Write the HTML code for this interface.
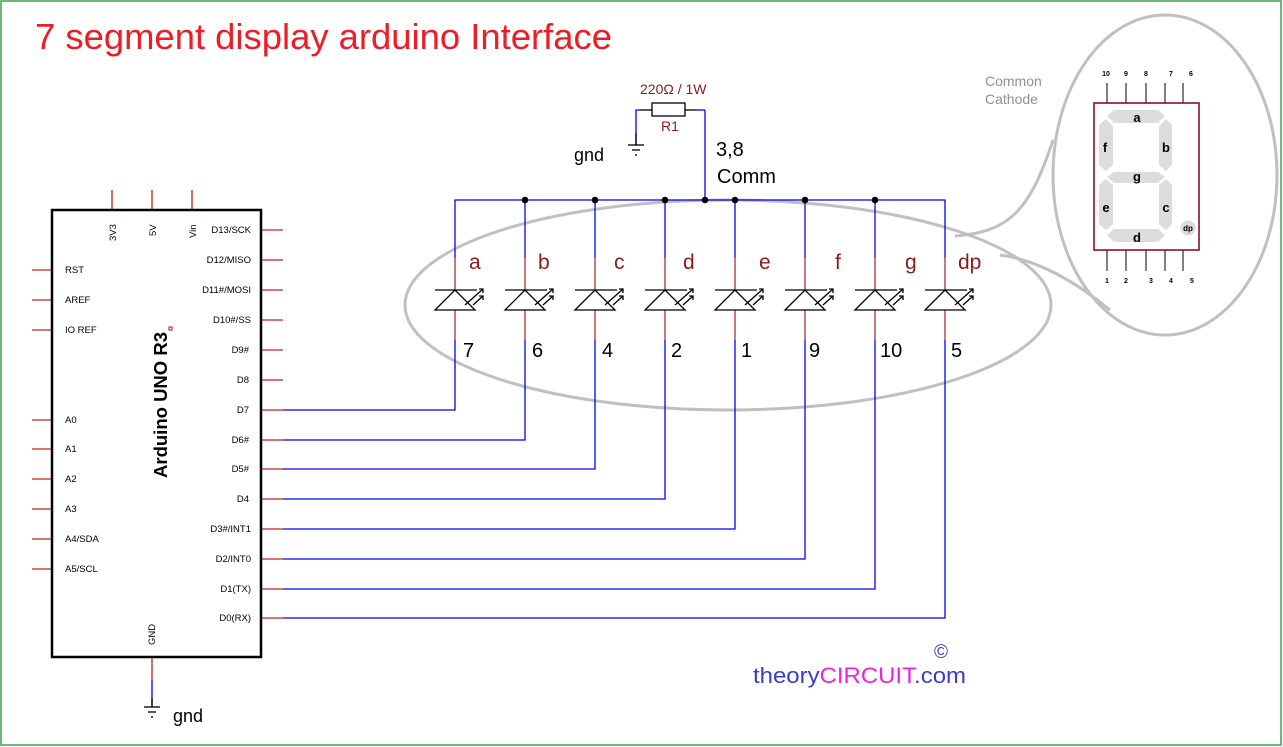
<!DOCTYPE html>
<html><head><meta charset="utf-8"><style>
html,body{margin:0;padding:0;background:#fff;}
svg{display:block;font-family:"Liberation Sans",sans-serif;}
</style></head><body>
<svg width="1283" height="747" viewBox="0 0 1283 747" xmlns="http://www.w3.org/2000/svg">
<rect x="1" y="1" width="1280" height="744" fill="#fff" stroke="#3aa04a" stroke-width="1.5"/>
<text x="35" y="49" font-size="36.5" fill="#ee1c24" textLength="577" lengthAdjust="spacingAndGlyphs">7 segment display arduino Interface</text>

<!-- Arduino -->
<g stroke="#c02020" stroke-width="1.3">
<line x1="112" y1="190" x2="112" y2="210"/><line x1="152" y1="190" x2="152" y2="210"/><line x1="192" y1="190" x2="192" y2="210"/>
<line x1="32" y1="270" x2="52" y2="270"/><line x1="32" y1="300" x2="52" y2="300"/><line x1="32" y1="330" x2="52" y2="330"/>
<line x1="32" y1="420" x2="52" y2="420"/><line x1="32" y1="449" x2="52" y2="449"/><line x1="32" y1="479" x2="52" y2="479"/>
<line x1="32" y1="509" x2="52" y2="509"/><line x1="32" y1="539" x2="52" y2="539"/><line x1="32" y1="569" x2="52" y2="569"/>
<line x1="261" y1="230" x2="283" y2="230"/><line x1="261" y1="260" x2="283" y2="260"/><line x1="261" y1="290" x2="283" y2="290"/>
<line x1="261" y1="320" x2="283" y2="320"/><line x1="261" y1="350" x2="283" y2="350"/><line x1="261" y1="380" x2="283" y2="380"/>
<line x1="261" y1="410" x2="283" y2="410"/><line x1="261" y1="440" x2="283" y2="440"/><line x1="261" y1="469" x2="283" y2="469"/>
<line x1="261" y1="499" x2="283" y2="499"/><line x1="261" y1="529" x2="283" y2="529"/><line x1="261" y1="559" x2="283" y2="559"/>
<line x1="261" y1="589" x2="283" y2="589"/><line x1="261" y1="618" x2="283" y2="618"/>
<line x1="152" y1="657" x2="152" y2="680"/>
</g>
<rect x="52" y="210" width="209" height="447" fill="none" stroke="#000" stroke-width="2.5"/>
<rect x="169" y="327" width="3" height="3" fill="none" stroke="#e00" stroke-width="1"/>
<g font-size="9.5" fill="#000">
<text x="65" y="273">RST</text><text x="65" y="303">AREF</text><text x="65" y="333">IO REF</text>
<text x="65" y="423">A0</text><text x="65" y="452">A1</text><text x="65" y="482">A2</text><text x="65" y="512">A3</text><text x="65" y="542">A4/SDA</text><text x="65" y="572">A5/SCL</text>
<g text-anchor="end">
<text x="251" y="233">D13/SCK</text><text x="251" y="263">D12/MISO</text><text x="251" y="293">D11#/MOSI</text><text x="251" y="323">D10#/SS</text>
<text x="249" y="353">D9#</text><text x="249" y="383">D8</text><text x="249" y="413">D7</text><text x="249" y="443">D6#</text>
<text x="249" y="472">D5#</text><text x="249" y="502">D4</text><text x="251" y="532">D3#/INT1</text><text x="251" y="562">D2/INT0</text>
<text x="251" y="592">D1(TX)</text><text x="251" y="621">D0(RX)</text>
</g>
<text transform="translate(116,241) rotate(-90)">3V3</text>
<text transform="translate(156,236) rotate(-90)">5V</text>
<text transform="translate(196,238) rotate(-90)">Vin</text>
<text transform="translate(155,645) rotate(-90)">GND</text>
</g>
<text transform="translate(167,478) rotate(-90)" font-size="18.5" font-weight="bold" textLength="146" lengthAdjust="spacingAndGlyphs">Arduino UNO R3</text>
<line x1="152" y1="680" x2="152" y2="705" stroke="#0000ff" stroke-width="1.3"/>
<g stroke="#000" stroke-width="1.3"><line x1="152" y1="698" x2="152" y2="707"/><line x1="144" y1="707" x2="160" y2="707"/><line x1="148" y1="712" x2="156" y2="712"/><line x1="151" y1="717" x2="153" y2="717"/></g>
<text x="173" y="722" font-size="18">gnd</text>

<!-- ellipse -->
<ellipse cx="728" cy="305" rx="323" ry="105" fill="none" stroke="#c0c0c0" stroke-width="3"/>
<ellipse cx="1165" cy="175" rx="112" ry="160" fill="none" stroke="#c0c0c0" stroke-width="3"/>
<path d="M955 236 C1010 232 1030 210 1053 140" fill="none" stroke="#c0c0c0" stroke-width="3"/>
<path d="M1000 255 C1040 260 1080 285 1110 310" fill="none" stroke="#c0c0c0" stroke-width="3"/>

<!-- bus & wires -->
<g stroke="#0000ff" stroke-width="1.3" fill="none">
<polyline points="455,258 455,200 945,200 945,258"/>
<line x1="525" y1="200" x2="525" y2="258"/><line x1="595" y1="200" x2="595" y2="258"/><line x1="665" y1="200" x2="665" y2="258"/>
<line x1="735" y1="200" x2="735" y2="258"/><line x1="805" y1="200" x2="805" y2="258"/><line x1="875" y1="200" x2="875" y2="258"/>
<line x1="705" y1="200" x2="705" y2="110"/>
<polyline points="636,145 636,110 640,110"/>
<polyline points="283,410 455,410 455,340"/>
<polyline points="283,440 525,440 525,340"/>
<polyline points="283,469 595,469 595,340"/>
<polyline points="283,499 665,499 665,340"/>
<polyline points="283,529 735,529 735,340"/>
<polyline points="283,559 805,559 805,340"/>
<polyline points="283,589 875,589 875,340"/>
<polyline points="283,618 945,618 945,340"/>
</g>
<g fill="#000"><circle cx="525" cy="200" r="3.3"/><circle cx="595" cy="200" r="3.3"/><circle cx="665" cy="200" r="3.3"/><circle cx="705" cy="200" r="3.3"/><circle cx="735" cy="200" r="3.3"/><circle cx="805" cy="200" r="3.3"/><circle cx="875" cy="200" r="3.3"/></g>

<!-- resistor -->
<g stroke="#000" stroke-width="1.3" fill="none">
<line x1="640" y1="110" x2="652" y2="110"/><rect x="652" y="103" width="33" height="13"/><line x1="685" y1="110" x2="697" y2="110"/>
<line x1="636" y1="133" x2="636" y2="145"/><line x1="628" y1="145" x2="644" y2="145"/><line x1="632" y1="150" x2="640" y2="150"/><line x1="635" y1="155" x2="637" y2="155"/>
</g>
<line x1="697" y1="110" x2="705" y2="110" stroke="#0000ff" stroke-width="1.3"/>
<text x="640" y="94" font-size="14" fill="#8b1a1a">220Ω / 1W</text>
<text x="661" y="131" font-size="14" fill="#8b1a1a">R1</text>
<text x="574" y="161" font-size="18">gnd</text>
<text x="716" y="156" font-size="20">3,8</text>
<text x="717" y="183" font-size="20">Comm</text>

<!-- LEDs -->
<defs>
<g id="led" fill="none" stroke-width="1.3">
<line x1="0" y1="258" x2="0" y2="290" stroke="#b03030"/>
<line x1="0" y1="310" x2="0" y2="340" stroke="#b03030"/>
<g stroke="#000">
<line x1="-20" y1="290" x2="22" y2="290"/>
<polygon points="-20,310 0,290 20,310"/>
<line x1="10" y1="305" x2="28" y2="289"/><polyline points="24,289 28,289 28,293"/>
<line x1="18" y1="305" x2="28" y2="296"/><polyline points="24,296 28,296 28,300"/>
</g>
</g>
</defs>
<use href="#led" x="455"/><use href="#led" x="525"/><use href="#led" x="595"/><use href="#led" x="665"/>
<use href="#led" x="735"/><use href="#led" x="805"/><use href="#led" x="875"/><use href="#led" x="945"/>
<g font-size="21" fill="#8b1a1a">
<text x="469" y="269">a</text><text x="538" y="269">b</text><text x="614" y="269">c</text><text x="683" y="269">d</text>
<text x="759" y="269">e</text><text x="835" y="269">f</text><text x="905" y="269">g</text><text x="958" y="269">dp</text>
</g>
<g font-size="20" fill="#000">
<text x="463" y="357">7</text><text x="532" y="357">6</text><text x="602" y="357">4</text><text x="671" y="357">2</text>
<text x="741" y="357">1</text><text x="809" y="357">9</text><text x="880" y="357">10</text><text x="951" y="357">5</text>
</g>

<!-- display -->
<text x="985" y="86" font-size="14" fill="#909090">Common</text>
<text x="985" y="104" font-size="14" fill="#909090">Cathode</text>
<g stroke="#808080" stroke-width="2">
<line x1="1107" y1="83" x2="1107" y2="103"/><line x1="1126" y1="83" x2="1126" y2="103"/><line x1="1146" y1="83" x2="1146" y2="103"/><line x1="1165" y1="83" x2="1165" y2="103"/><line x1="1183" y1="83" x2="1183" y2="103"/>
<line x1="1107" y1="250" x2="1107" y2="271"/><line x1="1126" y1="250" x2="1126" y2="271"/><line x1="1146" y1="250" x2="1146" y2="271"/><line x1="1165" y1="250" x2="1165" y2="271"/><line x1="1183" y1="250" x2="1183" y2="271"/>
</g>
<rect x="1094" y="103" width="105" height="147" fill="#fff" stroke="#800020" stroke-width="1.5"/>
<g fill="#dcdcdc">
<polygon points="1114,110 1158,110 1165,116 1158,123 1114,123 1107,116"/>
<polygon points="1114,172 1158,172 1165,177 1158,183 1114,183 1107,177"/>
<polygon points="1114,229 1158,229 1165,235 1158,242 1114,242 1107,235"/>
<polygon points="1099,125 1106,119 1113,126 1113,165 1106,171 1099,165"/>
<polygon points="1159,126 1166,119 1172,125 1172,165 1166,171 1159,165"/>
<polygon points="1099,185 1106,179 1113,185 1113,224 1106,230 1099,224"/>
<polygon points="1159,185 1166,179 1172,185 1172,224 1166,230 1159,224"/>
<circle cx="1188" cy="228" r="7.5"/>
</g>
<g font-size="13" font-weight="bold" fill="#000" text-anchor="middle">
<text x="1137" y="122">a</text><text x="1105" y="152">f</text><text x="1166" y="152">b</text><text x="1137" y="181">g</text>
<text x="1106" y="212">e</text><text x="1166" y="212">c</text><text x="1137" y="242">d</text>
</g>
<text x="1188" y="231" font-size="8" font-weight="bold" text-anchor="middle">dp</text>
<g font-size="7" font-weight="bold" text-anchor="middle">
<text x="1106" y="76">10</text><text x="1126" y="76">9</text><text x="1146" y="76">8</text><text x="1171" y="76">7</text><text x="1191" y="76">6</text>
<text x="1107" y="283">1</text><text x="1126" y="283">2</text><text x="1151" y="283">3</text><text x="1171" y="283">4</text><text x="1192" y="283">5</text>
</g>

<!-- footer -->
<text x="753" y="683" font-size="22" fill="#3b3bd0" textLength="213" lengthAdjust="spacingAndGlyphs">theory<tspan fill="#f020e0">CIRCUIT</tspan>.com</text>
<text x="941" y="658" font-size="19" fill="#3b3bd0" text-anchor="middle">©</text>
</svg>
</body></html>
